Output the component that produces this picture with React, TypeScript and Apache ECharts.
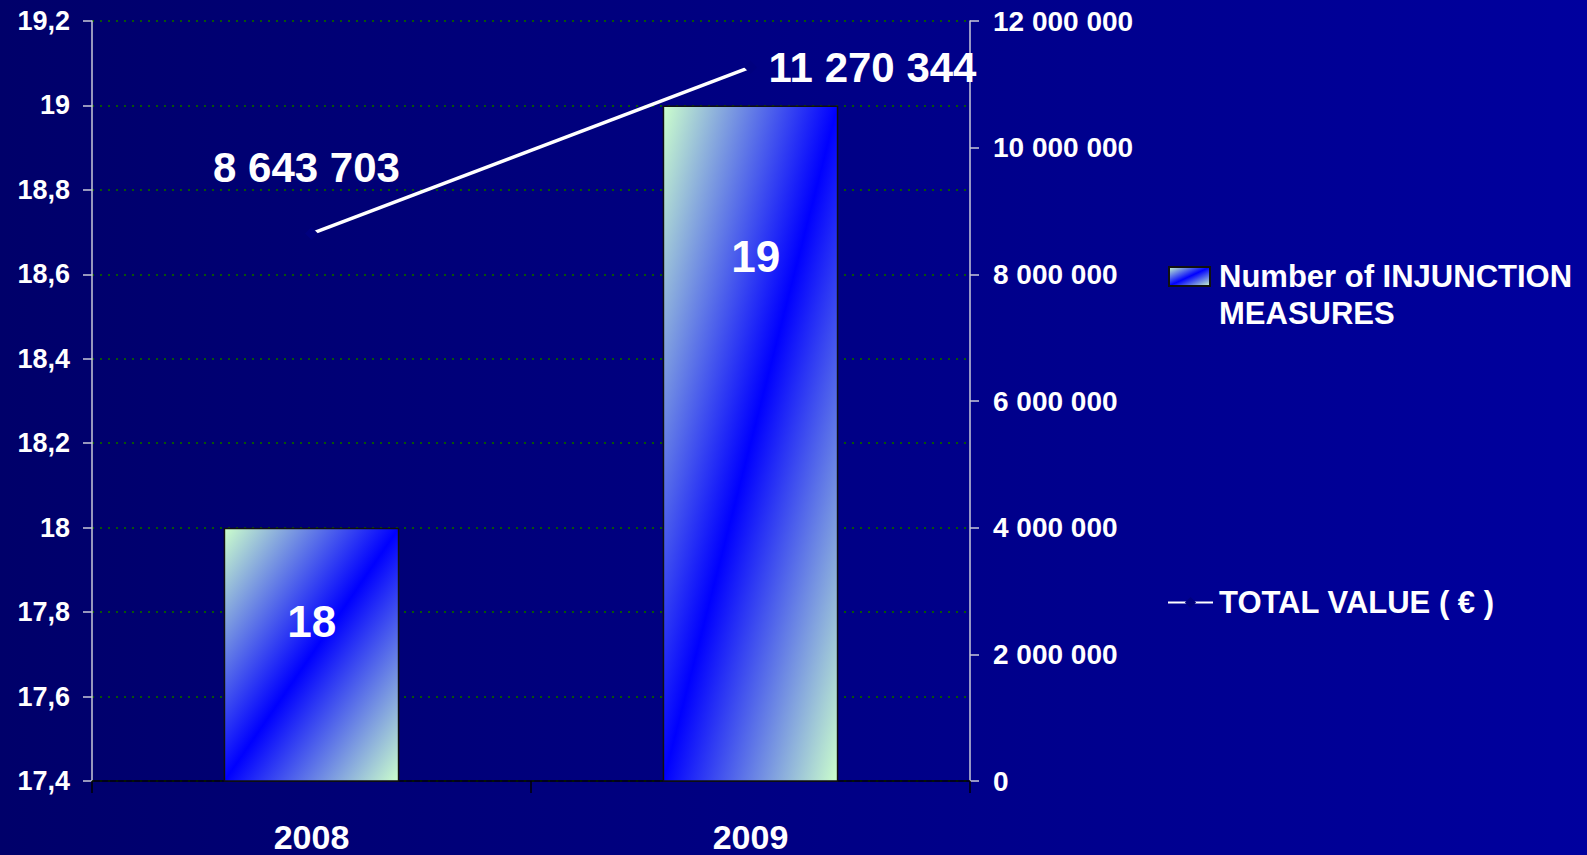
import React, { useEffect, useRef } from 'react';
import * as echarts from 'echarts';

// Chart data
const years = ['2008', '2009'];
const injunctionCounts = [18, 19];
const totalValues = [8643703, 11270344];

// Axis ranges and steps
const countAxisRange = [17.4, 19.2];
const countAxisStep = 0.2;
const valueAxisRange = [0, 12000000];
const valueAxisStep = 2000000;

const seriesNames = ['Number of INJUNCTION MEASURES', 'TOTAL VALUE ( € )'];

// Label placement inside each bar (px from the bar's top-left corner)
const barLabelPositions: [number, number][] = [
  [88, 94],
  [93, 151],
];
// Label offsets around each point of the value line
const lineLabelOffsets: [number, number][] = [
  [-5, -66],
  [122, 0],
];

const FONT = "'Liberation Sans', Arial, sans-serif";

const groupThousands = (v: number) =>
  String(Math.round(v)).replace(/\B(?=(\d{3})+(?!\d))/g, ' ');

const decimalComma = (v: number) => {
  const r = Math.round(v * 10) / 10;
  return String(r).replace('.', ',');
};

export default function App() {
  const ref = useRef<HTMLDivElement>(null);

  useEffect(() => {
    if (!ref.current) return;
    const chart = echarts.init(ref.current, undefined, { renderer: 'svg' });

    const barFill = new echarts.graphic.LinearGradient(0, 0, 1, 1, [
      { offset: 0, color: '#ccffcc' },
      { offset: 0.5, color: '#0000ff' },
      { offset: 1, color: '#ccffcc' },
    ]);

    const axisText = {
      color: '#ffffff',
      fontFamily: FONT,
      fontWeight: 'bold' as const,
      fontSize: 27,
    };

    const legendText = {
      color: '#ffffff',
      fontFamily: FONT,
      fontWeight: 'bold' as const,
      fontSize: 31,
      lineHeight: 37,
    };

    chart.setOption({
      animation: false,
      backgroundColor: 'transparent',
      textStyle: { fontFamily: FONT },
      grid: { left: 92, right: 617, top: 21, bottom: 74, containLabel: false },
      legend: [
        {
          data: [seriesNames[0]],
          left: 1168,
          top: 221,
          padding: 0,
          icon: 'rect',
          itemWidth: 41,
          itemHeight: 19,
          // leading blank line keeps the first line level with the swatch
          formatter: () => '\nNumber of INJUNCTION\nMEASURES',
          textStyle: { ...legendText, padding: [0, 0, 0, 4] },
        },
        {
          data: [seriesNames[1]],
          left: 1167,
          top: 584,
          padding: 0,
          itemWidth: 45,
          itemHeight: 14,
          textStyle: { ...legendText, padding: [0, 0, 0, 1] },
        },
      ],
      xAxis: {
        type: 'category',
        data: years,
        axisLine: { lineStyle: { color: '#000000', width: 1.5 } },
        axisTick: { show: true, length: 12, lineStyle: { color: '#000000', width: 1.5 } },
        axisLabel: { ...axisText, fontSize: 34, lineHeight: 34, margin: 39 },
      },
      yAxis: [
        {
          type: 'value',
          min: countAxisRange[0],
          max: countAxisRange[1],
          interval: countAxisStep,
          axisLine: { show: true, lineStyle: { color: '#c8c8d8', width: 1.5 } },
          axisTick: { show: true, length: 9, lineStyle: { color: '#c8c8d8', width: 1.5 } },
          axisLabel: { ...axisText, margin: 22, formatter: decimalComma },
          splitLine: {
            show: true,
            lineStyle: { color: '#085408', width: 2, type: [2, 6] },
          },
        },
        {
          type: 'value',
          min: valueAxisRange[0],
          max: valueAxisRange[1],
          interval: valueAxisStep,
          position: 'right',
          axisLine: { show: true, lineStyle: { color: '#c8c8d8', width: 1.5 } },
          axisTick: { show: true, length: 9, lineStyle: { color: '#c8c8d8', width: 1.5 } },
          axisLabel: { ...axisText, fontSize: 28, margin: 23, formatter: groupThousands },
          splitLine: { show: false },
        },
      ],
      series: [
        {
          name: seriesNames[0],
          type: 'bar',
          yAxisIndex: 0,
          barWidth: '40%',
          itemStyle: { color: barFill, borderColor: '#101010', borderWidth: 1.5 },
          label: {
            show: true,
            color: '#ffffff',
            fontFamily: FONT,
            fontWeight: 'bold',
            fontSize: 44,
            align: 'center',
            verticalAlign: 'middle',
          },
          data: injunctionCounts.map((v, i) => ({
            value: v,
            label: { position: barLabelPositions[i] },
          })),
        },
        {
          name: seriesNames[1],
          type: 'line',
          yAxisIndex: 1,
          symbol: 'diamond',
          symbolSize: 13,
          itemStyle: { color: '#00007e' },
          lineStyle: { color: '#ffffff', width: 3.5 },
          z: 5,
          label: {
            show: true,
            position: 'inside',
            color: '#ffffff',
            fontFamily: FONT,
            fontWeight: 'bold',
            fontSize: 42,
            formatter: (p: any) => groupThousands(p.value),
          },
          data: totalValues.map((v, i) => ({
            value: v,
            label: { offset: lineLabelOffsets[i] },
          })),
        },
      ],
    });

    return () => chart.dispose();
  }, []);

  return (
    <div
      ref={ref}
      style={{
        position: 'fixed',
        left: 0,
        top: 0,
        width: 1587,
        height: 855,
        background: 'linear-gradient(to right, #00006a, #00009e)',
      }}
    />
  );
}
